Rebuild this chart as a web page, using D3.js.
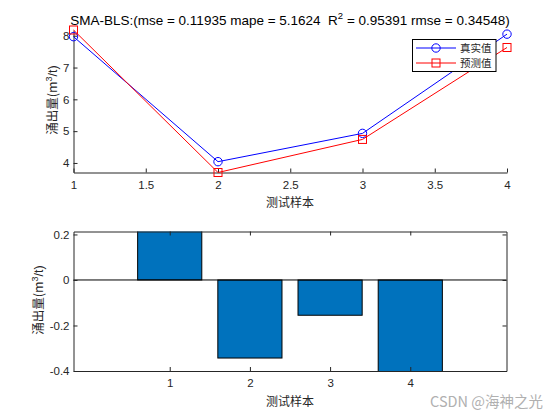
<!DOCTYPE html>
<html><head><meta charset="utf-8">
<script src="https://cdn.jsdelivr.net/npm/d3@7/dist/d3.min.js"></script>
<style>body{margin:0;background:#fff}svg{display:block}</style>
</head><body>
<script>
const samples = [1, 2, 3, 4];
const realValues = [7.97, 4.04, 4.93, 8.05];
const predValues = [8.18, 3.70, 4.74, 7.63];
const errValues = [0.25, -0.343, -0.155, -0.52];
const topXTicks = [1, 1.5, 2, 2.5, 3, 3.5, 4];
const topYTicks = [4, 5, 6, 7, 8];
const botXTicks = [1, 2, 3, 4];
const botYTicks = [-0.4, -0.2, 0, 0.2];
const titleText = "SMA-BLS:(mse = 0.11935 mape = 5.1624\u00a0\u00a0R";
const titleRest = " = 0.95391 rmse = 0.34548)";
const legendNames = ["真实值", "预测值"];

const W = 560, H = 420;
const svg = d3.select("body").append("svg").attr("width", W).attr("height", H);
const tickFont = "Liberation Sans, Arial, sans-serif";
const cjk = "Noto Sans CJK SC, sans-serif";
const txt = "#262626";
const fmt = d => String(+d.toFixed(2));

// ---------- top plot ----------
const x1 = d3.scaleLinear().domain([1, 4]).range([73.5, 507]);
const y1 = d3.scaleLinear().domain([3.7, 8.18]).range([172.5, 30]);
const g1 = svg.append("g");

const xa1 = g1.append("g").attr("transform", "translate(0,172.5)")
  .call(d3.axisBottom(x1).tickValues(topXTicks).tickSizeInner(-4).tickSizeOuter(0).tickPadding(8).tickFormat(fmt));
const ya1 = g1.append("g").attr("transform", "translate(73.5,0)")
  .call(d3.axisLeft(y1).tickValues(topYTicks).tickSizeInner(-4).tickSizeOuter(0).tickPadding(4).tickFormat(fmt));
[xa1, ya1].forEach(a => {
  a.selectAll("path,line").attr("stroke", txt);
  a.selectAll("text").attr("font-family", tickFont).attr("font-size", 11.5).attr("fill", txt);
});

const line1 = d3.line().x((d, i) => x1(samples[i])).y(d => y1(d));
g1.append("path").datum(realValues).attr("d", line1).attr("fill", "none").attr("stroke", "#0000ff").attr("stroke-width", 1);
g1.append("path").datum(predValues).attr("d", line1).attr("fill", "none").attr("stroke", "#ff0000").attr("stroke-width", 1);
g1.selectAll(".rc").data(realValues).enter().append("circle")
  .attr("cx", (d, i) => x1(samples[i])).attr("cy", d => y1(d)).attr("r", 4.2)
  .attr("fill", "none").attr("stroke", "#0000ff");
g1.selectAll(".ps").data(predValues).enter().append("rect")
  .attr("x", (d, i) => x1(samples[i]) - 4).attr("y", d => y1(d) - 4).attr("width", 8).attr("height", 8)
  .attr("fill", "none").attr("stroke", "#ff0000");

// title
const t = svg.append("text").attr("x", 290).attr("y", 25).attr("text-anchor", "middle")
  .attr("font-family", tickFont).attr("font-size", 13.5).attr("fill", "#000");
t.append("tspan").text(titleText);
t.append("tspan").attr("dy", -6).attr("font-size", 9.5).text("2");
t.append("tspan").attr("dy", 6).text(titleRest);

// axis labels
function ylab(cx, cy) {
  const tt = svg.append("text").attr("transform", `translate(${cx},${cy}) rotate(-90)`)
    .attr("text-anchor", "middle").attr("font-family", cjk).attr("font-size", 12.5).attr("fill", txt);
  tt.append("tspan").text("涌出量(m");
  tt.append("tspan").attr("dy", -5).attr("font-size", 9).attr("font-family", tickFont).text("3");
  tt.append("tspan").attr("dy", 5).attr("font-family", tickFont).text("/t)");
}
ylab(57, 100);
ylab(43, 300);
function xlab(cx, cy) {
  svg.append("text").attr("x", cx).attr("y", cy).attr("text-anchor", "middle")
    .attr("font-family", cjk).attr("font-size", 12).attr("fill", txt).text("测试样本");
}
xlab(290, 207);
xlab(290, 406);

// legend
const lg = svg.append("g");
lg.append("rect").attr("x", 412.5).attr("y", 39.5).attr("width", 83.5).attr("height", 32)
  .attr("fill", "#fff").attr("stroke", "#000").attr("stroke-width", 1);
const legColors = ["#0000ff", "#ff0000"];
legendNames.forEach((n, i) => {
  const yy = 48 + i * 15;
  lg.append("line").attr("x1", 416).attr("x2", 456).attr("y1", yy).attr("y2", yy).attr("stroke", legColors[i]);
  if (i === 0) lg.append("circle").attr("cx", 436).attr("cy", yy).attr("r", 4.2).attr("fill", "none").attr("stroke", legColors[i]);
  else lg.append("rect").attr("x", 432).attr("y", yy - 4).attr("width", 8).attr("height", 8).attr("fill", "none").attr("stroke", legColors[i]);
  lg.append("text").attr("x", 460).attr("y", yy + 3.6).attr("font-family", cjk).attr("font-size", 10.5)
    .attr("fill", txt).text(n);
});

// ---------- bottom plot ----------
const x2 = d3.scaleLinear().domain([-0.2, 5.2]).range([73.5, 506.5]);
const y2 = d3.scaleLinear().domain([-0.4, 0.213]).range([371, 231.5]);
const g2 = svg.append("g");
const defs = svg.append("defs");
defs.append("clipPath").attr("id", "clip2").append("rect")
  .attr("x", 73.5).attr("y", 231.5).attr("width", 433).attr("height", 139.5);
const bw = x2(0.8) - x2(0);
g2.append("g").attr("clip-path", "url(#clip2)").selectAll("rect").data(errValues).enter().append("rect")
  .attr("x", (d, i) => x2(samples[i]) - bw / 2).attr("width", bw)
  .attr("y", d => y2(Math.max(0, d))).attr("height", d => Math.abs(y2(d) - y2(0)))
  .attr("fill", "#0072BD").attr("stroke", "#000").attr("stroke-width", 1);
g2.append("line").attr("x1", 73.5).attr("x2", 506.5).attr("y1", y2(0)).attr("y2", y2(0)).attr("stroke", "#000");

const xa2 = g2.append("g").attr("transform", "translate(0,371)")
  .call(d3.axisBottom(x2).tickValues(botXTicks).tickSizeInner(-4).tickSizeOuter(0).tickPadding(8).tickFormat(fmt));
const xa2t = g2.append("g").attr("transform", "translate(0,231.5)")
  .call(d3.axisTop(x2).tickValues(botXTicks).tickSizeInner(-4).tickSizeOuter(0).tickFormat(""));
const ya2 = g2.append("g").attr("transform", "translate(73.5,0)")
  .call(d3.axisLeft(y2).tickValues(botYTicks).tickSizeInner(-4).tickSizeOuter(0).tickPadding(4).tickFormat(fmt));
const ya2r = g2.append("g").attr("transform", "translate(506.5,0)")
  .call(d3.axisRight(y2).tickValues(botYTicks).tickSizeInner(-4).tickSizeOuter(0).tickFormat(""));
[xa2, xa2t, ya2, ya2r].forEach(a => {
  a.selectAll("path,line").attr("stroke", txt);
  a.selectAll("text").attr("font-family", tickFont).attr("font-size", 11.5).attr("fill", txt);
});

// watermark
svg.append("text").attr("x", 543).attr("y", 407).attr("text-anchor", "end")
  .attr("font-family", "Noto Sans CJK SC, sans-serif").attr("font-size", 14.5).attr("fill", "#b0b0b0")
  .text("CSDN @海神之光");
</script>
</body></html>
